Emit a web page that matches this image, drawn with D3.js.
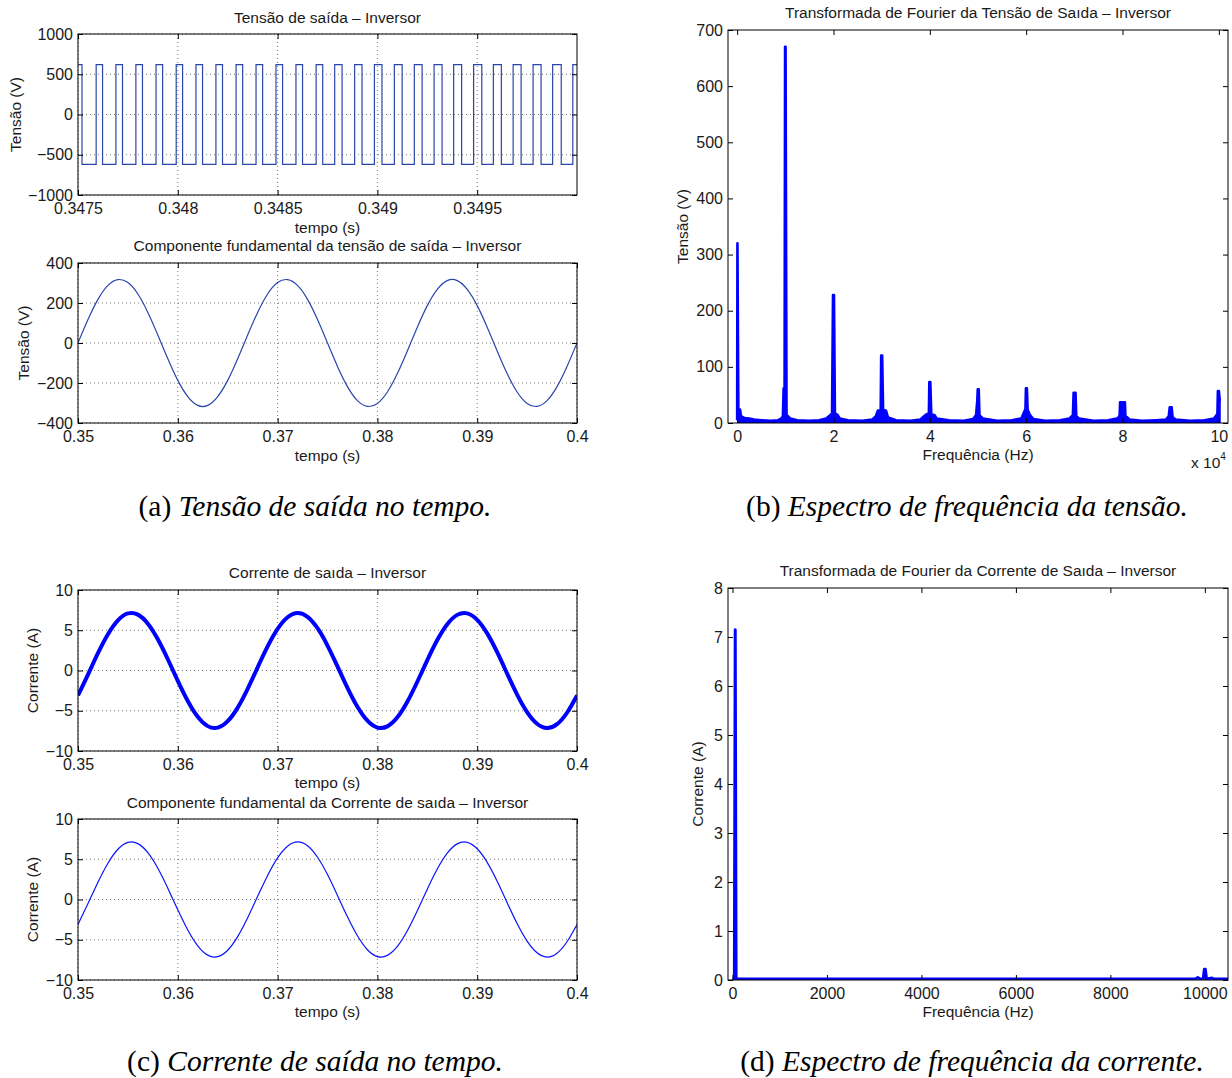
<!DOCTYPE html>
<html><head><meta charset="utf-8">
<script src="https://cdn.jsdelivr.net/npm/d3@7"></script>
<style>
body{margin:0;background:#fff}
svg text{font-family:"Liberation Sans",Arial,Helvetica,sans-serif;fill:#1a1a1a}
</style>
</head><body><script>
// ---------------- DATA ----------------
// (a) top: PWM output voltage, level and switching instants (s)
const pwmLevel = 620;
const pwmRise = [0.347591,0.347690,0.347790,0.347891,0.347992,0.348091,0.348191,0.348292,0.348392,0.348492,0.348592,0.348693,0.348786,0.348886,0.348985,0.349085,0.349185,0.349284,0.349382,0.349482,0.349581,0.349680,0.349780,0.349878,0.349979];
const pwmFall = [0.347520,0.347623,0.347723,0.347823,0.347924,0.348024,0.348124,0.348224,0.348325,0.348425,0.348525,0.348625,0.348726,0.348823,0.348923,0.349023,0.349124,0.349224,0.349324,0.349422,0.349523,0.349621,0.349720,0.349820,0.349921];
const a1XTicks = [0.3475,0.348,0.3485,0.349,0.3495];
const a1XTickLabels = ["0.3475","0.348","0.3485","0.349","0.3495"];
const a1YTicks = [-1000,-500,0,500,1000];

// time samples for the 0.35..0.40 s windows
const timeS = [0.350,0.351,0.352,0.353,0.354,0.355,0.356,0.357,0.358,0.359,0.360,0.361,0.362,0.363,0.364,0.365,0.366,0.367,0.368,0.369,0.370,0.371,0.372,0.373,0.374,0.375,0.376,0.377,0.378,0.379,0.380,0.381,0.382,0.383,0.384,0.385,0.386,0.387,0.388,0.389,0.390,0.391,0.392,0.393,0.394,0.395,0.396,0.397,0.398,0.399,0.400];
// (a) bottom: fundamental voltage (V)
const voltFund = [0,117,218,288,317,302,245,153,40,-79,-187,-268,-312,-312,-268,-187,-79,40,153,245,302,317,288,218,117,0,-117,-218,-288,-317,-302,-245,-153,-40,79,187,268,312,312,268,187,79,-40,-153,-245,-302,-317,-288,-218,-117,0];
// (c) output current and its fundamental (A)
const currOut = [-3.10,-0.51,2.15,4.51,6.24,7.09,6.94,5.82,3.88,1.40,-1.28,-3.78,-5.75,-6.91,-7.10,-6.30,-4.61,-2.27,0.39,2.99,5.17,6.62,7.15,6.67,5.25,3.10,0.51,-2.15,-4.51,-6.24,-7.09,-6.94,-5.82,-3.88,-1.40,1.28,3.78,5.75,6.91,7.10,6.30,4.61,2.27,-0.39,-2.99,-5.17,-6.62,-7.15,-6.67,-5.25,-3.10];
const currFund = [-3.10,-0.51,2.15,4.51,6.24,7.09,6.94,5.82,3.88,1.40,-1.28,-3.78,-5.75,-6.91,-7.10,-6.30,-4.61,-2.27,0.39,2.99,5.17,6.62,7.15,6.67,5.25,3.10,0.51,-2.15,-4.51,-6.24,-7.09,-6.94,-5.82,-3.88,-1.40,1.28,3.78,5.75,6.91,7.10,6.30,4.61,2.27,-0.39,-2.99,-5.17,-6.62,-7.15,-6.67,-5.25,-3.10];
const timeXTicks = [0.35,0.36,0.37,0.38,0.39,0.4];
const timeXTickLabels = ["0.35","0.36","0.37","0.38","0.39","0.4"];
const a2YTicks = [-400,-200,0,200,400];
const cYTicks = [-10,-5,0,5,10];

// (b) voltage spectrum: frequency (Hz) / amplitude (V)
const specVFreq = [0,60,250,600,800,1500,2500,3500,5000,7000,8500,9200,9500,9650,9850,9950,10050,10250,10600,11000,12500,15000,17000,18500,19300,19700,19900,20100,20300,20800,21300,23000,26000,28000,28800,29200,29800,29900,30100,30300,30900,31300,33000,36000,38000,38800,39400,39800,39900,40100,40300,41000,41400,44000,47000,49000,49600,49850,49950,50150,50300,51000,54000,57000,59000,59600,59850,59950,60150,60300,60800,61500,64000,67000,69000,69700,69850,70250,70400,71000,74000,77000,78800,79200,79400,79500,79800,79900,80100,80200,80500,80600,81000,81500,84000,87000,89000,89600,89800,90200,90400,91000,94000,97000,99000,99500,99700,99800,100000,100200,100400];
const specVAmp  = [5,320,24,24,12,9,8,6,5,4,5,8,12,62,62,670,670,14,12,8,5,4,5,8,14,17,228,228,17,15,8,5,4,6,12,22,22,120,120,24,22,10,5,4,6,12,16,16,73,73,16,14,8,5,4,7,14,40,60,60,14,8,4,5,8,20,25,62,62,24,14,7,4,5,8,14,54,54,12,8,4,5,8,10,14,37,37,14,14,37,37,12,10,6,4,5,6,12,28,28,10,6,4,5,8,14,16,57,57,40,40];
const bXTicks = [0,20000,40000,60000,80000,100000];
const bXTickLabels = ["0","2","4","6","8","10"];
const bYTicks = [0,100,200,300,400,500,600,700];

// (d) current spectrum: frequency (Hz) / amplitude (A)
const specIFreq = [0,40,58,76,9800,9850,9900,9965,9990,10010,10035,10150,10200,10490];
const specIAmp  = [0.02,0.02,7.15,0.02,0.02,0.05,0.02,0.02,0.22,0.22,0.02,0.04,0.02,0.02];
const dXTicks = [0,2000,4000,6000,8000,10000];
const dXTickLabels = ["0","2000","4000","6000","8000","10000"];
const dYTicks = [0,1,2,3,4,5,6,7,8];

// ---------------- DRAWING ----------------
const W = 1232, H = 1078;
const FS = 15.5, TFS = 16;
const svg = d3.select("body").append("svg").attr("width", W).attr("height", H);
const fmtNum = d => d < 0 ? "\u2212" + Math.abs(d) : String(d);

function panel(p) {
  const g = svg.append("g");
  const x = d3.scaleLinear().domain(p.xDomain).range([p.x0, p.x1]);
  const y = d3.scaleLinear().domain(p.yDomain).range([p.y1, p.y0]);
  if (p.grid) {
    const gg = g.append("g").attr("stroke", "#7a7a7a").attr("stroke-width", 1).attr("stroke-dasharray", "1,3");
    gg.selectAll("line.v").data(p.xTicks).join("line")
      .attr("x1", d => x(d)).attr("x2", d => x(d)).attr("y1", p.y0).attr("y2", p.y1);
    gg.selectAll("line.h").data(p.yTicks).join("line")
      .attr("x1", p.x0).attr("x2", p.x1).attr("y1", d => y(d)).attr("y2", d => y(d));
  }
  const cid = "clip_" + p.id;
  svg.append("clipPath").attr("id", cid).append("rect")
    .attr("x", p.x0).attr("y", p.y0).attr("width", p.x1 - p.x0).attr("height", p.y1 - p.y0);
  const dg = g.append("g").attr("clip-path", `url(#${cid})`);
  p.draw(dg, x, y);

  const style = a => {
    a.select(".domain").remove();
    a.attr("font-size", TFS).attr("font-family", null).attr("color", "#000");
    a.selectAll(".tick line").attr("stroke", "#000").attr("stroke-width", 1);
  };
  g.append("g").attr("transform", `translate(0,${p.y1})`)
    .call(d3.axisBottom(x).tickValues(p.xTicks).tickFormat((d, i) => p.xTickLabels[i])
      .tickSizeInner(-5).tickSizeOuter(0).tickPadding(8)).call(style);
  g.append("g").attr("transform", `translate(0,${p.y0})`)
    .call(d3.axisTop(x).tickValues(p.xTicks).tickFormat("").tickSizeInner(-5).tickSizeOuter(0)).call(style);
  g.append("g").attr("transform", `translate(${p.x0},0)`)
    .call(d3.axisLeft(y).tickValues(p.yTicks).tickFormat(fmtNum)
      .tickSizeInner(-5).tickSizeOuter(0).tickPadding(5)).call(style);
  g.append("g").attr("transform", `translate(${p.x1},0)`)
    .call(d3.axisRight(y).tickValues(p.yTicks).tickFormat("").tickSizeInner(-5).tickSizeOuter(0)).call(style);
  g.append("rect").attr("x", p.x0).attr("y", p.y0).attr("width", p.x1 - p.x0).attr("height", p.y1 - p.y0)
    .attr("fill", "none").attr("stroke", "#000").attr("stroke-width", 1);

  const cx = (p.x0 + p.x1) / 2;
  g.append("text").attr("x", cx).attr("y", p.titleY).attr("text-anchor", "middle").attr("font-size", FS).text(p.title);
  g.append("text").attr("x", cx).attr("y", p.xlabelY).attr("text-anchor", "middle").attr("font-size", FS).text(p.xlabel);
  g.append("text").attr("transform", `translate(${p.ylabelX},${(p.y0 + p.y1) / 2}) rotate(-90)`)
    .attr("text-anchor", "middle").attr("font-size", FS).text(p.ylabel);
  return {x, y, g};
}

const lineTS = (vals) => (x, y) => d3.line().x((d, i) => x(timeS[i])).y(d => y(d)).curve(d3.curveNatural)(vals);

// (a) top
panel({
  id: "a1", x0: 78, x1: 577, y0: 34, y1: 195,
  xDomain: [0.3475, 0.35], yDomain: [-1000, 1000],
  xTicks: a1XTicks, xTickLabels: a1XTickLabels, yTicks: a1YTicks, grid: true,
  title: "Tensão de saída \u2013 Inversor", titleY: 23, xlabel: "tempo (s)", xlabelY: 233,
  ylabel: "Tensão (V)", ylabelX: 21,
  draw: (g, x, y) => {
    const pts = [[0.3475, pwmLevel]];
    pwmFall.forEach((f, i) => {
      pts.push([f, pwmLevel], [f, -pwmLevel], [pwmRise[i], -pwmLevel], [pwmRise[i], pwmLevel]);
    });
    pts.push([0.35, pwmLevel]);
    g.append("path").attr("d", d3.line().x(d => x(d[0])).y(d => y(d[1]))(pts))
      .attr("fill", "none").attr("stroke", "#2a46aa").attr("stroke-width", 1.2);
  }
});

// (a) bottom
panel({
  id: "a2", x0: 78, x1: 577, y0: 263, y1: 423,
  xDomain: [0.35, 0.4], yDomain: [-400, 400],
  xTicks: timeXTicks, xTickLabels: timeXTickLabels, yTicks: a2YTicks, grid: true,
  title: "Componente fundamental da tensão de saída \u2013 Inversor", titleY: 251, xlabel: "tempo (s)", xlabelY: 461,
  ylabel: "Tensão (V)", ylabelX: 29,
  draw: (g, x, y) => {
    g.append("path").attr("d", lineTS(voltFund)(x, y)).attr("fill", "none").attr("stroke", "#2a46aa").attr("stroke-width", 1.2);
  }
});

// (b) voltage spectrum
const pb = panel({
  id: "b", x0: 728, x1: 1228, y0: 30, y1: 423,
  xDomain: [-1900, 101900], yDomain: [0, 700],
  xTicks: bXTicks, xTickLabels: bXTickLabels, yTicks: bYTicks, grid: false,
  title: "Transformada de Fourier da Tensão de Saıda \u2013 Inversor", titleY: 18, xlabel: "Frequência (Hz)", xlabelY: 460,
  ylabel: "Tensão (V)", ylabelX: 688,
  draw: (g, x, y) => {
    const idx = d3.range(specVFreq.length);
    g.append("path").attr("d", d3.area().x(i => x(specVFreq[i])).y0(y(0)).y1(i => y(specVAmp[i]))(idx))
      .attr("fill", "#0000ff");
    g.append("path").attr("d", d3.line().x(i => x(specVFreq[i])).y(i => y(specVAmp[i]))(idx))
      .attr("fill", "none").attr("stroke", "#0000ff").attr("stroke-width", 2.6).attr("stroke-linejoin", "round");
  }
});
const mult = pb.g.append("text").attr("x", 1191).attr("y", 468).attr("font-size", FS);
mult.append("tspan").text("x 10");
mult.append("tspan").attr("dy", -8).attr("font-size", 10).text("4");

// (c) top
panel({
  id: "c1", x0: 78, x1: 577, y0: 590, y1: 751,
  xDomain: [0.35, 0.4], yDomain: [-10, 10],
  xTicks: timeXTicks, xTickLabels: timeXTickLabels, yTicks: cYTicks, grid: true,
  title: "Corrente de saıda \u2013 Inversor", titleY: 578, xlabel: "tempo (s)", xlabelY: 788,
  ylabel: "Corrente (A)", ylabelX: 38,
  draw: (g, x, y) => {
    g.append("path").attr("d", lineTS(currOut)(x, y)).attr("fill", "none").attr("stroke", "#0000ff").attr("stroke-width", 4);
  }
});

// (c) bottom
panel({
  id: "c2", x0: 78, x1: 577, y0: 819, y1: 980,
  xDomain: [0.35, 0.4], yDomain: [-10, 10],
  xTicks: timeXTicks, xTickLabels: timeXTickLabels, yTicks: cYTicks, grid: true,
  title: "Componente fundamental da Corrente de saıda \u2013 Inversor", titleY: 808, xlabel: "tempo (s)", xlabelY: 1017,
  ylabel: "Corrente (A)", ylabelX: 38,
  draw: (g, x, y) => {
    g.append("path").attr("d", lineTS(currFund)(x, y)).attr("fill", "none").attr("stroke", "#0a14ff").attr("stroke-width", 1.2);
  }
});

// (d) current spectrum
panel({
  id: "d", x0: 728, x1: 1228, y0: 588, y1: 980,
  xDomain: [-95, 10490], yDomain: [0, 8],
  xTicks: dXTicks, xTickLabels: dXTickLabels, yTicks: dYTicks, grid: false,
  title: "Transformada de Fourier da Corrente de Saıda \u2013 Inversor", titleY: 576, xlabel: "Frequência (Hz)", xlabelY: 1017,
  ylabel: "Corrente (A)", ylabelX: 703,
  draw: (g, x, y) => {
    const idx = d3.range(specIFreq.length);
    g.append("path").attr("d", d3.line().x(i => x(specIFreq[i])).y(i => y(specIAmp[i]))(idx))
      .attr("fill", "none").attr("stroke", "#0000ff").attr("stroke-width", 3).attr("stroke-linejoin", "round");
  }
});

// captions
const captions = [
  {lab: "(a)", txt: "Tensão de saída no tempo.", x: 315, y: 516},
  {lab: "(b)", txt: "Espectro de frequência da tensão.", x: 967, y: 516},
  {lab: "(c)", txt: "Corrente de saída no tempo.", x: 315, y: 1071},
  {lab: "(d)", txt: "Espectro de frequência da corrente.", x: 972, y: 1071}
];
captions.forEach(c => {
  const t = svg.append("text").attr("x", c.x).attr("y", c.y).attr("text-anchor", "middle")
    .style("font-family", '"Liberation Serif","Times New Roman",serif').attr("font-size", 29.5).style("fill", "#000");
  t.append("tspan").text(c.lab + " ");
  t.append("tspan").attr("font-style", "italic").text(c.txt);
});
</script></body></html>
